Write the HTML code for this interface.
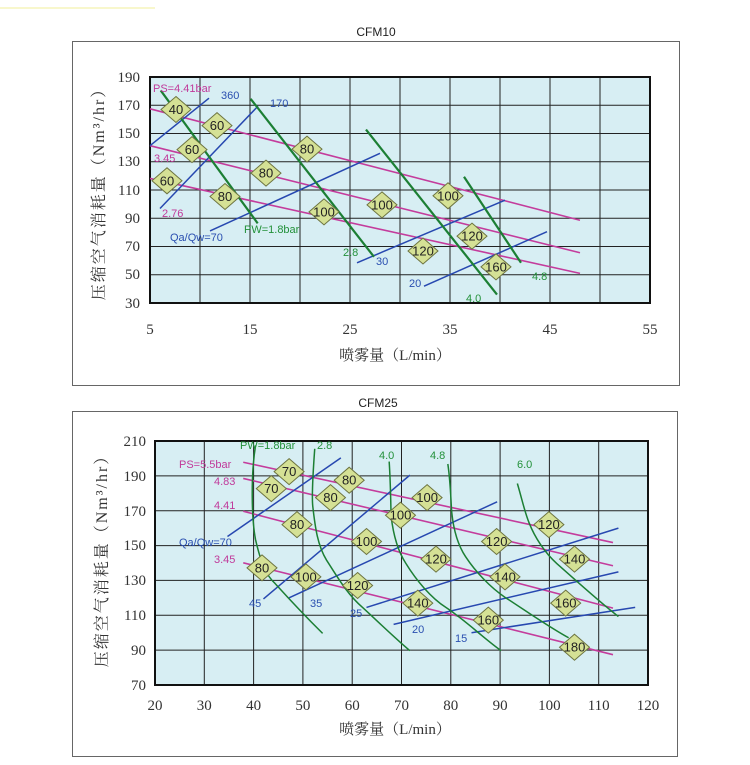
<!DOCTYPE html>
<html><head><meta charset="utf-8">
<style>
body{margin:0;background:#fff;}
svg{display:block;font-family:"Liberation Sans","Noto Sans CJK SC",sans-serif;}
.ser{font-family:"Liberation Serif","Noto Serif CJK SC",serif;}
.m{fill:#c0399a;font-size:11px}
.g{fill:#23913a;font-size:11px}
.b{fill:#2a4fb0;font-size:11px}
.dl{font-size:13px;fill:#222;text-anchor:middle;dominant-baseline:central}
.ml{stroke:#c43c9c;stroke-width:1.6;fill:none;vector-effect:non-scaling-stroke}
.gl{stroke:#1c7f34;stroke-width:2.2;fill:none;vector-effect:non-scaling-stroke}
.bl{stroke:#2748b0;stroke-width:1.5;fill:none;vector-effect:non-scaling-stroke}
.yt{font-size:16px;letter-spacing:2px}
</style></head><body>
<svg width="750" height="765" viewBox="0 0 750 765" xmlns="http://www.w3.org/2000/svg">
<defs>
<g id="d"><polygon points="0,-13 15,0 0,13 -15,0" fill="#d5e195" stroke="#6d7440" stroke-width="1"/></g>
</defs>
<line x1="0" y1="8" x2="155" y2="8" stroke="#f2ef9a" stroke-width="1"/>

<!-- CHART 1 -->
<text x="376" y="36" font-size="12" text-anchor="middle" fill="#222">CFM10</text>
<rect x="72.5" y="41.5" width="607" height="344" fill="#fff" stroke="#666"/>
<rect x="150" y="77" width="500" height="226" fill="#d7eef3"/>
<g stroke="#222" stroke-width="1">
<line x1="200" y1="77" x2="200" y2="303"/><line x1="250" y1="77" x2="250" y2="303"/><line x1="300" y1="77" x2="300" y2="303"/><line x1="350" y1="77" x2="350" y2="303"/><line x1="400" y1="77" x2="400" y2="303"/><line x1="450" y1="77" x2="450" y2="303"/><line x1="500" y1="77" x2="500" y2="303"/><line x1="550" y1="77" x2="550" y2="303"/><line x1="600" y1="77" x2="600" y2="303"/>
<line x1="150" y1="105.25" x2="650" y2="105.25"/><line x1="150" y1="133.5" x2="650" y2="133.5"/><line x1="150" y1="161.75" x2="650" y2="161.75"/><line x1="150" y1="190" x2="650" y2="190"/><line x1="150" y1="218.25" x2="650" y2="218.25"/><line x1="150" y1="246.5" x2="650" y2="246.5"/><line x1="150" y1="274.75" x2="650" y2="274.75"/>
</g>
<rect x="150" y="77" width="500" height="226" fill="none" stroke="#111" stroke-width="2"/>
<g transform="matrix(10 0 0 -1.4125 100 345.4)">
<line class="ml" x1="5" y1="167.5" x2="48" y2="88.6"/>
<line class="ml" x1="5" y1="141.4" x2="48" y2="65.6"/>
<line class="ml" x1="5" y1="118.2" x2="48" y2="51"/>
<line class="bl" x1="5" y1="141.4" x2="10.9" y2="175"/>
<line class="bl" x1="6" y1="96.9" x2="15.8" y2="169.4"/>
<line class="bl" x1="11" y1="81" x2="28" y2="136"/>
<line class="bl" x1="25.7" y1="58.5" x2="40.5" y2="102.8"/>
<line class="bl" x1="32.4" y1="41.9" x2="44.7" y2="80.5"/>
<line class="gl" x1="6.07" y1="180.5" x2="15.77" y2="86.4"/>
<line class="gl" x1="15.06" y1="174.6" x2="27.4" y2="62.7"/>
<line class="gl" x1="26.6" y1="152.8" x2="39.7" y2="36"/>
<line class="gl" x1="36.4" y1="119.4" x2="42.1" y2="58.5"/>
</g>
<text class="m" x="153" y="92">PS=4.41bar</text>
<text class="b" x="221" y="99">360</text>
<text class="b" x="270" y="107">170</text>
<text class="m" x="154" y="162">3.45</text>
<text class="m" x="162" y="217">2.76</text>
<text class="b" x="170" y="241">Qa/Qw=70</text>
<text class="g" x="244" y="233">PW=1.8bar</text>
<text class="g" x="343" y="256">2.8</text>
<text class="b" x="376" y="265">30</text>
<text class="b" x="409" y="287">20</text>
<text class="g" x="466" y="302">4.0</text>
<text class="g" x="532" y="280">4.8</text>
<g>
<use href="#d" x="176" y="109.5"/><text class="dl" x="176" y="109.5">40</text>
<use href="#d" x="217" y="125.6"/><text class="dl" x="217" y="125.6">60</text>
<use href="#d" x="192" y="149.6"/><text class="dl" x="192" y="149.6">60</text>
<use href="#d" x="167" y="180.8"/><text class="dl" x="167" y="180.8">60</text>
<use href="#d" x="307" y="149.1"/><text class="dl" x="307" y="149.1">80</text>
<use href="#d" x="266" y="173.1"/><text class="dl" x="266" y="173.1">80</text>
<use href="#d" x="225" y="196.5"/><text class="dl" x="225" y="196.5">80</text>
<use href="#d" x="324" y="211.9"/><text class="dl" x="324" y="211.9">100</text>
<use href="#d" x="382" y="204.9"/><text class="dl" x="382" y="204.9">100</text>
<use href="#d" x="448" y="195.8"/><text class="dl" x="448" y="195.8">100</text>
<use href="#d" x="472" y="236.1"/><text class="dl" x="472" y="236.1">120</text>
<use href="#d" x="423" y="251"/><text class="dl" x="423" y="251">120</text>
<use href="#d" x="496" y="266.9"/><text class="dl" x="496" y="266.9">160</text>
</g>
<g class="ser" font-size="15" fill="#333" text-anchor="end">
<text x="140" y="82">190</text><text x="140" y="110">170</text><text x="140" y="138">150</text><text x="140" y="166">130</text><text x="140" y="195">110</text><text x="140" y="223">90</text><text x="140" y="251">70</text><text x="140" y="279">50</text><text x="140" y="308">30</text>
</g>
<g class="ser" font-size="15" fill="#333" text-anchor="middle">
<text x="150" y="334">5</text><text x="250" y="334">15</text><text x="350" y="334">25</text><text x="450" y="334">35</text><text x="550" y="334">45</text><text x="650" y="334">55</text>
</g>
<text class="ser" x="395" y="360" font-size="15" fill="#333" text-anchor="middle">喷雾量（L/min）</text>
<text class="ser yt" transform="translate(104,190) rotate(-90)" fill="#333" text-anchor="middle">压缩空气消耗量（Nm³/hr）</text>

<!-- CHART 2 -->
<text x="378" y="407" font-size="12" text-anchor="middle" fill="#222">CFM25</text>
<rect x="72.5" y="411.5" width="605" height="345" fill="#fff" stroke="#666"/>
<rect x="155" y="441" width="493" height="244" fill="#d7eef3"/>
<g stroke="#222" stroke-width="1">
<line x1="204.3" y1="441" x2="204.3" y2="685"/><line x1="253.6" y1="441" x2="253.6" y2="685"/><line x1="302.9" y1="441" x2="302.9" y2="685"/><line x1="352.2" y1="441" x2="352.2" y2="685"/><line x1="401.5" y1="441" x2="401.5" y2="685"/><line x1="450.8" y1="441" x2="450.8" y2="685"/><line x1="500.1" y1="441" x2="500.1" y2="685"/><line x1="549.4" y1="441" x2="549.4" y2="685"/><line x1="598.7" y1="441" x2="598.7" y2="685"/>
<line x1="155" y1="475.9" x2="648" y2="475.9"/><line x1="155" y1="510.7" x2="648" y2="510.7"/><line x1="155" y1="545.6" x2="648" y2="545.6"/><line x1="155" y1="580.4" x2="648" y2="580.4"/><line x1="155" y1="615.3" x2="648" y2="615.3"/><line x1="155" y1="650.1" x2="648" y2="650.1"/>
</g>
<rect x="155" y="441" width="493" height="244" fill="none" stroke="#111" stroke-width="2"/>
<g transform="matrix(4.93 0 0 -1.743 56.4 807)">
<line class="ml" x1="37.9" y1="197.8" x2="112.9" y2="151.7"/>
<line class="ml" x1="37.9" y1="188.5" x2="112.9" y2="138.4"/>
<line class="ml" x1="37.9" y1="169.7" x2="112.9" y2="114.1"/>
<line class="ml" x1="37.9" y1="140.1" x2="112.9" y2="87.4"/>
<line class="bl" x1="34.7" y1="155.2" x2="57.7" y2="200.3"/>
<line class="bl" x1="42" y1="119.4" x2="71.7" y2="190.4"/>
<line class="bl" x1="47.2" y1="120" x2="89.4" y2="175.1"/>
<line class="bl" x1="62.9" y1="114.5" x2="114" y2="160"/>
<line class="bl" x1="68.4" y1="104.8" x2="114" y2="134.9"/>
<line class="bl" x1="84.2" y1="100" x2="117.4" y2="114.5"/>
<path class="gl" style="stroke-width:1.5" d="M40.4,207.5 C39.4,190 39.6,165 40.4,153.3 C41.5,140 42.5,133 44.4,128.1 C47,120 51,108 54,99.6"/>
<path class="gl" style="stroke-width:1.5" d="M52.4,205.5 C52,190 51.8,178 52,172.6 C52.5,160 53,150 54.8,141.6 C57,132 59,122 62.1,114.5 C65,107 69,96 71.7,89.7"/>
<path class="gl" style="stroke-width:1.5" d="M67.5,198.2 C67.8,185 67.8,175 67.9,166.8 C68.3,157 69.2,147 70.9,139.7 C73,130 76,120 79,114.5 C83,107 87,96 90.2,89.7"/>
<path class="gl" style="stroke-width:1.5" d="M79.4,196.8 C80,185 80,175 80.2,168.8 C80.6,158 81.5,150 83,143.6 C85,135 88,126 91,120.3 C95,113 100,103 103.9,97.1"/>
<path class="gl" style="stroke-width:1.5" d="M93.5,185.6 C94.5,176 95,169 95.9,162.9 C97,155 99,146 101.5,139.7 C105,131 110,118 114,109.3"/>
</g>
<text class="g" x="240" y="449">PW=1.8bar</text>
<text class="g" x="317" y="449">2.8</text>
<text class="g" x="379" y="459">4.0</text>
<text class="g" x="430" y="459">4.8</text>
<text class="g" x="517" y="468">6.0</text>
<text class="m" x="179" y="468">PS=5.5bar</text>
<text class="m" x="214" y="485">4.83</text>
<text class="m" x="214" y="509">4.41</text>
<text class="m" x="214" y="563">3.45</text>
<text class="b" x="179" y="546">Qa/Qw=70</text>
<text class="b" x="249" y="607">45</text>
<text class="b" x="310" y="607">35</text>
<text class="b" x="350" y="617">25</text>
<text class="b" x="412" y="633">20</text>
<text class="b" x="455" y="642">15</text>
<g>
<use href="#d" x="289.1" y="471.6"/><text class="dl" x="289.1" y="471.6">70</text>
<use href="#d" x="271.3" y="488.6"/><text class="dl" x="271.3" y="488.6">70</text>
<use href="#d" x="349.2" y="480.2"/><text class="dl" x="349.2" y="480.2">80</text>
<use href="#d" x="330.5" y="497.6"/><text class="dl" x="330.5" y="497.6">80</text>
<use href="#d" x="297" y="524.6"/><text class="dl" x="297" y="524.6">80</text>
<use href="#d" x="262" y="567.9"/><text class="dl" x="262" y="567.9">80</text>
<use href="#d" x="427.1" y="497.6"/><text class="dl" x="427.1" y="497.6">100</text>
<use href="#d" x="400.5" y="515.2"/><text class="dl" x="400.5" y="515.2">100</text>
<use href="#d" x="366.5" y="541.5"/><text class="dl" x="366.5" y="541.5">100</text>
<use href="#d" x="305.9" y="576.9"/><text class="dl" x="305.9" y="576.9">100</text>
<use href="#d" x="548.9" y="524.6"/><text class="dl" x="548.9" y="524.6">120</text>
<use href="#d" x="496.6" y="541.5"/><text class="dl" x="496.6" y="541.5">120</text>
<use href="#d" x="436" y="559.1"/><text class="dl" x="436" y="559.1">120</text>
<use href="#d" x="357.6" y="585.5"/><text class="dl" x="357.6" y="585.5">120</text>
<use href="#d" x="574.5" y="559.1"/><text class="dl" x="574.5" y="559.1">140</text>
<use href="#d" x="505" y="576.9"/><text class="dl" x="505" y="576.9">140</text>
<use href="#d" x="417.8" y="603.1"/><text class="dl" x="417.8" y="603.1">140</text>
<use href="#d" x="565.7" y="603.1"/><text class="dl" x="565.7" y="603.1">160</text>
<use href="#d" x="488.3" y="620.1"/><text class="dl" x="488.3" y="620.1">160</text>
<use href="#d" x="574.5" y="647.2"/><text class="dl" x="574.5" y="647.2">180</text>
</g>
<g class="ser" font-size="15" fill="#333" text-anchor="end">
<text x="146" y="446">210</text><text x="146" y="481">190</text><text x="146" y="516">170</text><text x="146" y="550">150</text><text x="146" y="585">130</text><text x="146" y="620">110</text><text x="146" y="655">90</text><text x="146" y="690">70</text>
</g>
<g class="ser" font-size="15" fill="#333" text-anchor="middle">
<text x="155" y="710">20</text><text x="204.3" y="710">30</text><text x="253.6" y="710">40</text><text x="302.9" y="710">50</text><text x="352.2" y="710">60</text><text x="401.5" y="710">70</text><text x="450.8" y="710">80</text><text x="500.1" y="710">90</text><text x="549.4" y="710">100</text><text x="598.7" y="710">110</text><text x="648" y="710">120</text>
</g>
<text class="ser" x="395" y="734" font-size="15" fill="#333" text-anchor="middle">喷雾量（L/min）</text>
<text class="ser yt" transform="translate(107,557) rotate(-90)" fill="#333" text-anchor="middle">压缩空气消耗量（Nm³/hr）</text>
</svg>
</body></html>
